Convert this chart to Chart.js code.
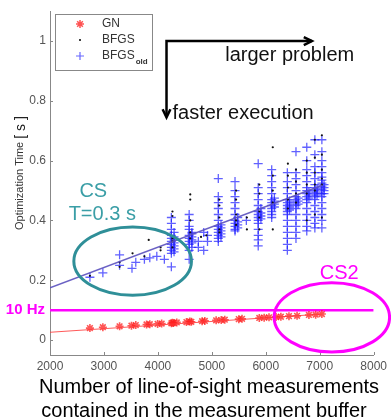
<!DOCTYPE html>
<html>
<head>
<meta charset="utf-8">
<script src="https://cdn.jsdelivr.net/npm/chart.js@4.4.1/dist/chart.umd.min.js"></script>
<style>
  html, body { margin: 0; padding: 0; background: #fff; }
  #chart { display: block; }
</style>
</head>
<body>
<canvas id="chart" width="391" height="419"></canvas>
<script>
// axes
const xTicks = [2000, 3000, 4000, 5000, 6000, 7000, 8000];
const yTicks = [0, 0.2, 0.4, 0.6, 0.8, 1];

// GN (red asterisks)
const gnX = [2740, 2980, 3290, 3510, 3590, 3790, 3850, 3995, 4070, 4250, 4270, 4290, 4350, 4530, 4590, 4620,
  4820, 4870, 5080, 5175, 5240, 5500, 5560, 5880, 5970, 6060, 6190, 6280, 6430, 6580, 6800, 6925, 7040];
const gnY = [0.040, 0.043, 0.046, 0.048, 0.050, 0.052, 0.053, 0.054, 0.055, 0.056, 0.058, 0.057, 0.059, 0.060, 0.062, 0.061,
  0.063, 0.064, 0.066, 0.067, 0.068, 0.070, 0.071, 0.074, 0.075, 0.076, 0.077, 0.078, 0.080, 0.081, 0.084, 0.085, 0.087];

// BFGS (black dots): [buffer size, times]
const bfgsCols = [
  [2740, [0.215]], [3290, [0.26, 0.245]], [3530, [0.29]], [3750, [0.28]], [3830, [0.335]],
  [4050, [0.31, 0.30]], [4270, [0.43, 0.415, 0.34, 0.33, 0.31]], [4600, [0.487, 0.47, 0.40, 0.36, 0.34]],
  [4800, [0.345]], [4900, [0.35]], [5140, [0.47, 0.45, 0.41, 0.37, 0.36]],
  [5450, [0.50, 0.47, 0.42, 0.40, 0.385]], [5650, [0.41, 0.37]], [5880, [0.52, 0.49, 0.43, 0.41, 0.37]],
  [6130, [0.645, 0.55, 0.50, 0.46, 0.37]], [6410, [0.59, 0.55, 0.51, 0.47, 0.44]],
  [6560, [0.57, 0.53, 0.49, 0.46]], [6760, [0.60, 0.56, 0.52, 0.49, 0.40]],
  [6910, [0.67, 0.61, 0.56, 0.52, 0.50, 0.42]], [7040, [0.685, 0.62, 0.57, 0.54, 0.52, 0.41]]
];

// BFGS old (blue pluses)
const bfgsOldCols = [
  [2740, [0.21]], [2980, [0.225]], [3290, [0.285, 0.25]], [3520, [0.24]], [3590, [0.26]],
  [3750, [0.27]], [3850, [0.275]], [3980, [0.28]], [4120, [0.27]],
  [4250, [0.245, 0.29, 0.30, 0.31, 0.32, 0.33, 0.34, 0.35, 0.37, 0.39, 0.41]],
  [4300, [0.295, 0.305, 0.315, 0.325, 0.335, 0.345, 0.36]],
  [4580, [0.27, 0.30, 0.32, 0.33, 0.34, 0.35, 0.37, 0.38, 0.40, 0.42]],
  [4630, [0.31, 0.325, 0.335, 0.345, 0.355, 0.36]],
  [4750, [0.33, 0.31]], [4850, [0.36, 0.30]], [4920, [0.35, 0.33]],
  [5120, [0.54, 0.48, 0.46, 0.44, 0.42, 0.40, 0.38, 0.37, 0.36, 0.35, 0.34, 0.33]],
  [5170, [0.385, 0.375, 0.365, 0.355, 0.345]],
  [5430, [0.53, 0.50, 0.48, 0.46, 0.44, 0.42, 0.40, 0.39, 0.38, 0.37, 0.365]],
  [5480, [0.41, 0.395, 0.385, 0.375]], [5640, [0.40]],
  [5860, [0.59, 0.51, 0.49, 0.47, 0.45, 0.43, 0.42, 0.41, 0.40, 0.39, 0.37, 0.35, 0.335, 0.315]],
  [5910, [0.44, 0.425, 0.415, 0.405]],
  [6110, [0.57, 0.55, 0.53, 0.51, 0.49, 0.47, 0.46, 0.45, 0.44, 0.43, 0.42, 0.41]],
  [6160, [0.475, 0.465, 0.455, 0.445]],
  [6400, [0.56, 0.53, 0.51, 0.49, 0.47, 0.46, 0.45, 0.44, 0.43, 0.42, 0.40, 0.38, 0.36, 0.34, 0.32, 0.30]],
  [6440, [0.465, 0.455, 0.445, 0.435]],
  [6560, [0.63, 0.56, 0.54, 0.52, 0.50, 0.48, 0.47, 0.46, 0.45, 0.44, 0.42, 0.40, 0.38, 0.36, 0.34]],
  [6600, [0.475, 0.465, 0.455]],
  [6760, [0.645, 0.60, 0.57, 0.55, 0.53, 0.51, 0.50, 0.49, 0.48, 0.47, 0.46, 0.44, 0.42, 0.40, 0.38, 0.365]],
  [6800, [0.495, 0.485, 0.475]],
  [6910, [0.67, 0.62, 0.58, 0.56, 0.54, 0.52, 0.51, 0.50, 0.49, 0.48, 0.47, 0.45, 0.43, 0.41, 0.39, 0.375]],
  [6950, [0.505, 0.495, 0.485]],
  [7040, [0.67, 0.63, 0.60, 0.58, 0.56, 0.545, 0.535, 0.525, 0.515, 0.505, 0.49, 0.48, 0.46, 0.44, 0.42, 0.40, 0.375]],
  [7080, [0.52, 0.51, 0.50, 0.49]]
];

// linear fits and the 10 Hz limit
const fitX = [2000, 7050];
const bfgsFitY = [0.175, 0.518];
const gnFitY = [0.026, 0.087];
const limitX = [2000, 8000];
const limitY = [0.1, 0.1];

const FONT = '"Liberation Sans", Arial, sans-serif';
const TEAL = "#2f8f98";
const MAGENTA = "#ff00ff";

const toPoints = cols => cols.flatMap(([x, ys]) => ys.map(y => ({ x, y })));
const zip = (xs, ys) => xs.map((x, i) => ({ x, y: ys[i] }));

function arrowHead(ctx, x, y, dx, dy) {
  // open chevron pointing along (dx, dy)
  const len = 9, spread = 0.45;
  const a = Math.atan2(dy, dx);
  ctx.beginPath();
  ctx.moveTo(x - len * Math.cos(a - spread), y - len * Math.sin(a - spread));
  ctx.lineTo(x, y);
  ctx.lineTo(x - len * Math.cos(a + spread), y - len * Math.sin(a + spread));
  ctx.stroke();
}

const overlay = {
  id: "overlay",
  afterDatasetsDraw(chart) {
    const { ctx, chartArea: area } = chart;
    const xs = chart.scales.x, ys = chart.scales.y;
    const px = v => xs.getPixelForValue(v);
    const py = v => ys.getPixelForValue(v);

    ctx.save();

    // inward tick marks
    ctx.strokeStyle = "#888";
    ctx.lineWidth = 1;
    ctx.beginPath();
    yTicks.forEach(v => { const y = Math.round(py(v)) + 0.5; ctx.moveTo(area.left, y); ctx.lineTo(area.left + 3, y); });
    xTicks.forEach(v => { const x = Math.round(px(v)) + 0.5; ctx.moveTo(x, area.bottom); ctx.lineTo(x, area.bottom - 3); });
    ctx.stroke();

    // ellipses
    ctx.lineWidth = 3;
    ctx.strokeStyle = TEAL;
    ctx.beginPath();
    ctx.ellipse(px(3532), py(0.264), px(3532 + 1090) - px(3532), py(0.264) - py(0.264 + 0.114), 0, 0, Math.PI * 2);
    ctx.stroke();
    ctx.strokeStyle = MAGENTA;
    ctx.beginPath();
    ctx.ellipse(px(7225), py(0.076), px(7225 + 1070) - px(7225), py(0.076) - py(0.076 + 0.116), 0, 0, Math.PI * 2);
    ctx.stroke();

    // arrows
    ctx.strokeStyle = "#000";
    ctx.lineWidth = 2.5;
    ctx.lineCap = "butt";
    const cx = px(4160), cy = py(1.0);
    ctx.beginPath();
    ctx.moveTo(px(6855), cy);
    ctx.lineTo(cx, cy);
    ctx.lineTo(cx, py(0.745));
    ctx.stroke();
    arrowHead(ctx, px(6855), cy, 1, 0);
    arrowHead(ctx, cx, py(0.745), 0, 1);

    // annotation texts
    ctx.textBaseline = "alphabetic";
    ctx.font = "20px " + FONT;
    ctx.fillStyle = "#111";
    ctx.textAlign = "left";
    ctx.fillText("larger problem", px(5249), py(0.934));
    ctx.fillText("faster execution", px(4271), py(0.738));

    ctx.textAlign = "center";
    ctx.fillStyle = "#3a9ea6";
    ctx.fillText("CS", px(2803), py(0.479));
    ctx.fillText("T=0.3 s", px(2969), py(0.40));
    ctx.fillStyle = MAGENTA;
    ctx.fillText("CS2", px(7363), py(0.205));

    ctx.restore();
  },
  afterDraw(chart) {
    const { ctx } = chart;
    const ys = chart.scales.y;
    ctx.save();

    // 10 Hz label
    ctx.font = "bold 15px " + FONT;
    ctx.fillStyle = MAGENTA;
    ctx.textAlign = "right";
    ctx.textBaseline = "middle";
    ctx.fillText("10 Hz", 45, ys.getPixelForValue(0.1));

    // legend
    ctx.fillStyle = "#fff";
    ctx.fillRect(55.5, 14.5, 97, 56);
    ctx.strokeStyle = "#888";
    ctx.lineWidth = 1;
    ctx.strokeRect(55.5, 14.5, 97, 56);
    const rows = [
      { label: "GN", y: 24, style: { pointStyle: "star", radius: 4, borderWidth: 1.5 }, color: "rgba(255,40,40,0.8)" },
      { label: "BFGS", y: 40, style: { pointStyle: "circle", radius: 1, borderWidth: 0 }, color: "#000" },
      { label: "BFGS", sub: "old", y: 56, style: { pointStyle: "cross", radius: 4, borderWidth: 1.2 }, color: "rgba(40,40,255,0.7)" }
    ];
    rows.forEach(r => {
      ctx.fillStyle = r.color;
      ctx.strokeStyle = r.color;
      ctx.lineWidth = r.style.borderWidth;
      Chart.helpers.drawPoint(ctx, { pointStyle: r.style.pointStyle, radius: r.style.radius, borderWidth: r.style.borderWidth, rotation: 0 }, 80, r.y);
      ctx.fillStyle = "#333";
      ctx.font = "12px " + FONT;
      ctx.textAlign = "left";
      ctx.textBaseline = "middle";
      ctx.fillText(r.label, 102, r.y);
      if (r.sub) {
        const w = ctx.measureText(r.label).width;
        ctx.font = "bold 8px " + FONT;
        ctx.fillText(r.sub, 102 + w + 1, r.y + 6);
      }
    });

    // y axis title
    ctx.translate(20, 230);
    ctx.rotate(-Math.PI / 2);
    ctx.textAlign = "left";
    ctx.textBaseline = "middle";
    ctx.fillStyle = "#333";
    ctx.font = "11px " + FONT;
    ctx.fillText("Optimization Time", 0, 0);
    const tw = ctx.measureText("Optimization Time").width;
    ctx.fillStyle = "#222";
    ctx.font = "14px " + FONT;
    ctx.fillText("[ s ]", tw + 3, 1);
    ctx.setTransform(1, 0, 0, 1, 0, 0);

    // x axis title
    ctx.fillStyle = "#000";
    ctx.font = "20px " + FONT;
    ctx.textAlign = "center";
    ctx.textBaseline = "alphabetic";
    ctx.fillText("Number of line-of-sight measurements", 209, 393);
    ctx.fillText("contained in the measurement buffer", 204, 417);

    ctx.restore();
  }
};

new Chart(document.getElementById("chart"), {
  type: "scatter",
  data: {
    datasets: [
      {
        label: "GN fit",
        data: zip(fitX, gnFitY),
        showLine: true,
        borderColor: "rgba(255,60,60,0.85)",
        borderWidth: 1,
        pointRadius: 0
      },
      {
        label: "GN",
        data: zip(gnX, gnY),
        pointStyle: "star",
        pointRadius: 4,
        borderWidth: 1.6,
        borderColor: "rgba(255,30,30,0.75)",
        backgroundColor: "rgba(255,30,30,0.75)"
      },
      {
        label: "BFGS fit",
        data: zip(fitX, bfgsFitY),
        showLine: true,
        borderColor: "rgba(90,80,190,0.9)",
        borderWidth: 1.5,
        pointRadius: 0
      },
      {
        label: "BFGS",
        data: toPoints(bfgsCols),
        pointStyle: "circle",
        pointRadius: 1.1,
        borderWidth: 0,
        backgroundColor: "#111"
      },
      {
        label: "BFGS old",
        data: toPoints(bfgsOldCols),
        pointStyle: "cross",
        pointRadius: 4.5,
        borderWidth: 1.3,
        borderColor: "rgba(30,30,255,0.7)"
      },
      {
        label: "10 Hz",
        data: zip(limitX, limitY),
        showLine: true,
        borderColor: MAGENTA,
        borderWidth: 2.5,
        pointRadius: 0
      }
    ]
  },
  options: {
    responsive: false,
    animation: false,
    layout: { padding: { top: 7, right: 16, left: 0, bottom: 0 } },
    plugins: { legend: { display: false }, tooltip: { enabled: false } },
    scales: {
      x: {
        type: "linear",
        min: 2000,
        max: 8000,
        afterBuildTicks: s => { s.ticks = xTicks.map(v => ({ value: v })); },
        afterFit: s => { s.height = 64; },
        grid: { display: false, drawTicks: false },
        border: { display: true, color: "#888", width: 1 },
        ticks: { padding: 4, color: "#555", font: { family: FONT, size: 12 }, maxRotation: 0, callback: v => String(v) }
      },
      y: {
        type: "linear",
        min: -0.05,
        max: 1.1,
        afterBuildTicks: s => { s.ticks = yTicks.map(v => ({ value: v })); },
        afterFit: s => { s.width = 50; },
        grid: { display: false, drawTicks: false },
        border: { display: true, color: "#888", width: 1 },
        ticks: { padding: 4, color: "#555", font: { family: FONT, size: 12 }, callback: v => String(v) }
      }
    }
  },
  plugins: [overlay]
});
</script>
</body>
</html>
